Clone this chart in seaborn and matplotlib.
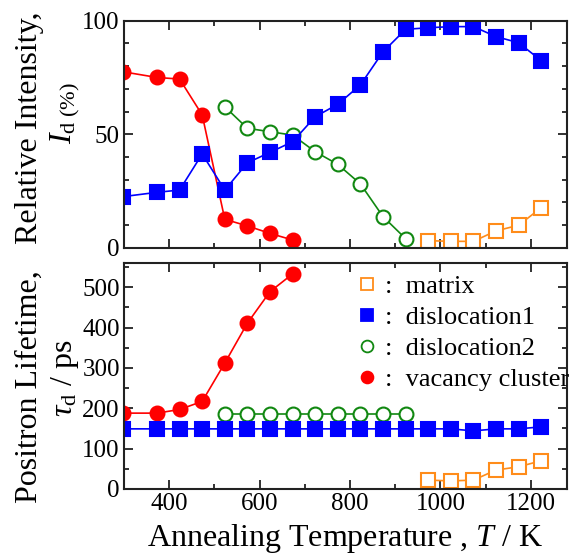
import numpy as np
import pandas as pd
import seaborn as sns
import matplotlib
matplotlib.use("Agg")
import matplotlib.pyplot as plt
from matplotlib.lines import Line2D
from matplotlib.ticker import MultipleLocator

sns.set_style("ticks")
plt.rcParams["font.family"] = ["Liberation Serif", "DejaVu Serif"]
plt.rcParams["mathtext.fontset"] = "custom"
plt.rcParams["mathtext.rm"] = "Liberation Serif"
plt.rcParams["mathtext.it"] = "Liberation Serif:italic"
plt.rcParams["text.color"] = "black"
plt.rcParams["xtick.color"] = "#222222"
plt.rcParams["ytick.color"] = "#222222"
plt.rcParams["xtick.labelcolor"] = "black"
plt.rcParams["ytick.labelcolor"] = "black"

# Annealing temperatures (K)
temp_vac = [298, 373, 423, 473, 523, 573, 623, 673]
temp_dis1 = [298, 373, 423, 473, 523, 573, 623, 673, 723, 773, 823, 873,
             923, 973, 1023, 1073, 1123, 1173, 1223]
temp_dis2 = [523, 573, 623, 673, 723, 773, 823, 873, 923]
temp_mat = [973, 1023, 1073, 1123, 1173, 1223]

# Relative intensities (%)
int_vac = [77.5, 75.0, 74.3, 58.5, 12.5, 9.6, 6.3, 3.4]
int_dis1 = [22.5, 24.4, 25.4, 41.3, 25.4, 37.4, 42.0, 46.7, 57.7, 63.2, 71.7,
            86.3, 96.2, 96.9, 97.4, 97.4, 93.0, 90.3, 82.4]
int_dis2 = [62.1, 52.6, 51.1, 49.6, 42.3, 36.7, 28.1, 13.7, 4.0]
int_mat = [3.1, 2.8, 2.8, 7.4, 9.9, 17.6]

# Positron lifetimes (ps)
tau_vac = [188, 188, 197, 217, 312, 411, 489, 533]
tau_dis1 = [149, 149, 149, 149, 149, 149, 149, 149, 149, 149, 149, 149,
            149, 149, 149, 144, 149, 149, 154]
tau_dis2 = [186, 186, 186, 186, 186, 186, 186, 186, 186]
tau_mat = [22, 20, 22, 47, 55, 70]

series = [
    ("matrix", temp_mat, int_mat, tau_mat, "s", "#ff8c1a", False),
    ("dislocation1", temp_dis1, int_dis1, tau_dis1, "s", "#0000ff", True),
    ("dislocation2", temp_dis2, int_dis2, tau_dis2, "o", "#118811", False),
    ("vacancy cluster", temp_vac, int_vac, tau_vac, "o", "#ff0000", True),
]

fig = plt.figure(figsize=(5.73, 5.57), dpi=100)
ax1 = fig.add_axes([0.2164, 0.5553, 0.7731, 0.4075])
ax2 = fig.add_axes([0.2164, 0.1221, 0.7731, 0.4057])

order = ["vacancy cluster", "dislocation2", "dislocation1", "matrix"]
for name in order:
    lab, t, iv, tv, mk, col, filled = [s for s in series if s[0] == name][0]
    ms = 10.5 if mk == "s" else 10
    kw = dict(marker=mk, color=col, markersize=ms, markeredgewidth=1.5,
              markeredgecolor=col, markerfacecolor=col if filled else "white",
              linewidth=1.2, sort=False, estimator=None, legend=False)
    df = pd.DataFrame({"T": t, "I": iv, "tau": tv})
    sns.lineplot(data=df, x="T", y="I", ax=ax1, **kw)
    sns.lineplot(data=df, x="T", y="tau", ax=ax2, **kw)

for ax in (ax1, ax2):
    ax.set_xlim(300, 1280)
    ax.xaxis.set_major_locator(MultipleLocator(200))
    ax.xaxis.set_minor_locator(MultipleLocator(100))
    ax.tick_params(which="both", direction="in", top=True, right=True,
                   width=1.3, labelsize=18, pad=3)
    ax.tick_params(which="major", length=6.5)
    ax.tick_params(which="minor", length=3.5)
    for sp in ax.spines.values():
        sp.set_linewidth(1.5)
        sp.set_color("#222222")
    ax.set_xlabel("")
    ax.set_ylabel("")

ax1.set_ylim(0, 100)
ax1.yaxis.set_major_locator(MultipleLocator(50))
ax1.yaxis.set_minor_locator(MultipleLocator(10))
ax1.tick_params(labelbottom=False)

ax2.set_ylim(0, 560)
ax2.yaxis.set_major_locator(MultipleLocator(100))
ax2.yaxis.set_minor_locator(MultipleLocator(50))

# Axis titles
fig.text(0.052, 0.770, "Relative Intensity,", rotation=90, fontsize=23,
         ha="center", va="center")
fig.text(0.113, 0.797, r"$I_{\mathrm{d}\ \mathrm{(\%)}}$", rotation=90,
         fontsize=23, ha="center", va="center")
fig.text(0.051, 0.305, "Positron Lifetime,", rotation=90, fontsize=23,
         ha="center", va="center")
fig.text(0.113, 0.321, r"$\tau_\mathrm{d}$ / ps", rotation=90, fontsize=23,
         ha="center", va="center")
fig.text(0.602, 0.034, r"Annealing Temperature , $T$ / K", fontsize=23,
         ha="center", va="center")

# Legend
handles = []
for lab, t, iv, tv, mk, col, filled in series:
    handles.append(Line2D([], [], linestyle="none", marker=mk, markersize=8.5,
                          markeredgewidth=1.3, markeredgecolor=col,
                          markerfacecolor=col if filled else "white",
                          label=":  " + lab))
ax2.legend(handles=handles, loc="upper right", bbox_to_anchor=(1.028, 0.995),
           frameon=False, fontsize=19, handletextpad=0.15, labelspacing=0.28,
           borderpad=0.1, handlelength=1.0, borderaxespad=0.3)

fig.savefig("out.png", dpi=100)
